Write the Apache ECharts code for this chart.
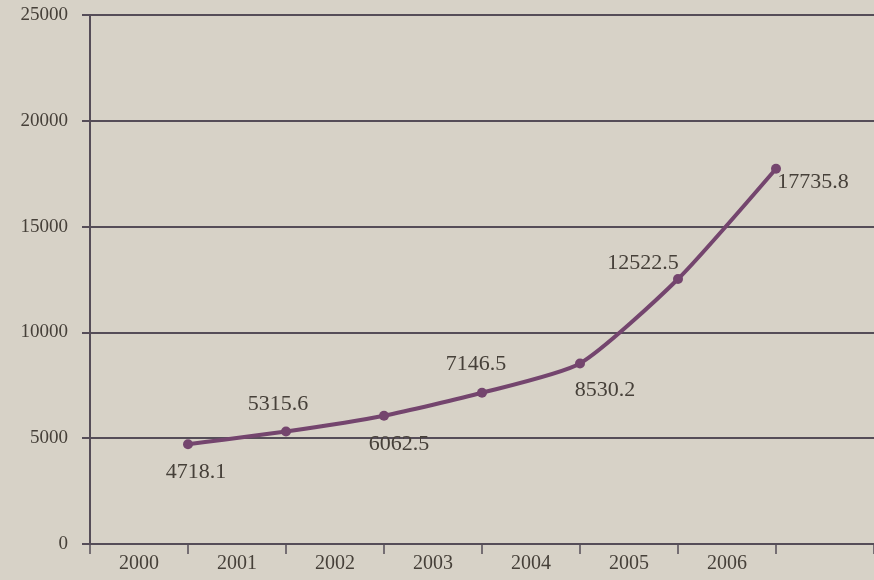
<!DOCTYPE html>
<html>
<head>
<meta charset="utf-8">
<script src="https://cdn.jsdelivr.net/npm/echarts@6/dist/echarts.min.js"></script>
<style>
  html, body { margin: 0; padding: 0; background: #d7d2c7; }
  #chart { width: 874px; height: 580px; }
</style>
</head>
<body>
<div id="chart"></div>
<script>
// Year categories along the bottom axis
const years = ['2000', '2001', '2002', '2003', '2004', '2005', '2006'];
// Yearly values, one point per year, drawn at the end of each year's band
const values = [4718.1, 5315.6, 6062.5, 7146.5, 8530.2, 12522.5, 17735.8];
// Value axis range and step
const yMin = 0;
const yMax = 25000;
const yStep = 5000;

// Label placement relative to each point (dx, dy in pixels)
const labelOffsets = [[8, 28], [-8, -27], [15, 29], [-6, -29], [25, 27], [-35, -16], [37, 14]];

const ink = '#464039';
const rule = '#554d58';
const lineColor = '#74456e';
const fontFamily = '"Liberation Serif", "DejaVu Serif", serif';

const chart = echarts.init(document.getElementById('chart'), null, { renderer: 'canvas' });

// Each year occupies one band; the band after the last year stays empty
const bandLabels = years.concat(['']);

chart.setOption({
  backgroundColor: '#d7d2c7',
  animation: false,
  grid: { left: 90, top: 15, width: 790, bottom: 36, containLabel: false },
  xAxis: [
    {
      type: 'category',
      data: bandLabels,
      boundaryGap: true,
      axisLine: { show: true, lineStyle: { color: rule, width: 2 } },
      axisTick: { show: true, alignWithLabel: false, length: 10, lineStyle: { color: rule, width: 1.5 } },
      axisLabel: { color: ink, fontFamily: fontFamily, fontSize: 20, margin: 10 },
      splitLine: { show: false }
    },
    {
      // Hidden positional axis: point i sits at the closing edge of year i
      type: 'value',
      min: 0,
      max: bandLabels.length,
      show: false
    }
  ],
  yAxis: {
    type: 'value',
    min: yMin,
    max: yMax,
    interval: yStep,
    axisLine: { show: true, lineStyle: { color: rule, width: 2 } },
    axisTick: { show: true, length: 8, lineStyle: { color: rule, width: 2 } },
    axisLabel: {
      color: ink,
      fontFamily: fontFamily,
      fontSize: 19,
      margin: 22,
      formatter: (v) => String(v)
    },
    splitLine: { show: true, lineStyle: { color: rule, width: 2 } }
  },
  series: [
    {
      type: 'line',
      xAxisIndex: 1,
      smooth: 0.2,
      data: values.map((v, i) => ({
        value: [i + 1, v],
        label: {
          show: true,
          position: 'inside',
          offset: labelOffsets[i],
          formatter: String(v),
          color: ink,
          fontFamily: fontFamily,
          fontSize: 22
        }
      })),
      symbol: 'circle',
      symbolSize: 10,
      lineStyle: { color: lineColor, width: 4 },
      itemStyle: { color: lineColor }
    }
  ]
});
</script>
</body>
</html>
